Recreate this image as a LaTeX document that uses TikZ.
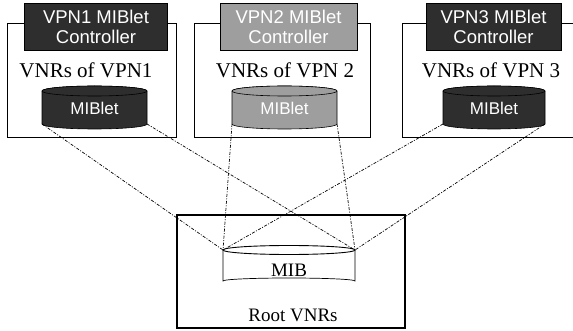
\documentclass[tikz,border=0pt]{standalone}
\usepackage{fontspec}
\setmainfont{Liberation Serif}
\newfontfamily\arialf{Liberation Sans}
\begin{document}
\begin{tikzpicture}[x=1pt,y=-1pt,
  frame/.style={draw=black,line width=1pt},
  ctrl/.style={draw=black,line width=0.6pt,inner sep=0pt,font=\arialf\fontsize{18.5}{20}\selectfont,text=white,align=center},
  dark/.style={fill=black!82},
  light/.style={fill=black!38},
  vlabel/.style={font=\fontsize{21}{23}\selectfont},
  conn/.style={line width=0.7pt,dash pattern=on 3pt off 1.5pt on 1pt off 1.5pt}
]
\useasboundingbox (0,0) rectangle (573,331);

% VPN frames
\draw[frame] (7,24) rectangle (176,138);
\draw[frame] (194,24) rectangle (370,138);
\draw[frame] (573,24) -- (402,24) -- (402,138) -- (573,138);

% controllers
\node[ctrl,dark,minimum width=143pt,minimum height=47pt] (c1) at (96,26.5) {VPN1 MIBlet\\Controller};
\node[ctrl,light,minimum width=137pt,minimum height=47pt] (c2) at (288.5,26.5) {VPN2 MIBlet\\Controller};
\node[ctrl,dark,minimum width=135pt,minimum height=47pt] (c3) at (493.5,26.5) {VPN3 MIBlet\\Controller};

% labels
\node[vlabel] (l1) at (86,70) {VNRs of VPN1};
\node[vlabel] (l2) at (285,70) {VNRs of VPN 2};
\node[vlabel] (l3) at (491,70) {VNRs of VPN 3};

% MIBlet cylinders
\newcommand{\cyl}[6]{% cx, left, right, ytop, ybot, style
  \filldraw[#6,draw=black,line width=0.6pt]
    (#2,#4) arc[start angle=180,end angle=360,x radius={(#3-#2)/2},y radius=5]
    -- (#3,#5) arc[start angle=0,end angle=180,x radius={(#3-#2)/2},y radius=5] -- cycle;
  \filldraw[#6,draw=black,line width=0.6pt] (#1,#4) ellipse[x radius={(#3-#2)/2},y radius=5];
}
\cyl{94.5}{42}{147}{91}{124}{dark}
\cyl{284.5}{232}{337}{91}{124}{light}
\cyl{494}{443}{545}{91}{124}{dark}
\node[font=\arialf\fontsize{17}{19}\selectfont,text=white] (m1) at (94.5,108) {MIBlet};
\node[font=\arialf\fontsize{17}{19}\selectfont,text=white] (m2) at (284.5,108) {MIBlet};
\node[font=\arialf\fontsize{17}{19}\selectfont,text=white] (m3) at (494,108) {MIBlet};
\coordinate (m1l) at (42,124); \coordinate (m1r) at (147,124);
\coordinate (m2l) at (232,124); \coordinate (m2r) at (337,124);
\coordinate (m3l) at (443,124); \coordinate (m3r) at (545,124);

% root box
\draw[frame,line width=1.3pt] (177,215) rectangle (405,328);
\node[font=\fontsize{19}{21}\selectfont] (root) at (293,315) {Root VNRs};

% MIB cylinder
\draw[line width=0.7pt,fill=white] (223,250) -- (223,281) arc[start angle=180,end angle=360,x radius=66,y radius=3] -- (355,250);
\draw[line width=0.9pt] (289,250) ellipse[x radius=66,y radius=4.5];
\coordinate (mibl) at (223,250);
\coordinate (mibr) at (355,250);
\node[font=\fontsize{19}{21}\selectfont] (mib) at (289,270) {MIB};

% connectors
\draw[conn] (m1l) -- (mibl);
\draw[conn] (m1r) -- (mibr);
\draw[conn] (m2l) -- (mibl);
\draw[conn] (m2r) -- (mibr);
\draw[conn] (m3l) -- (mibl);
\draw[conn] (m3r) -- (mibr);
\end{tikzpicture}
\end{document}
